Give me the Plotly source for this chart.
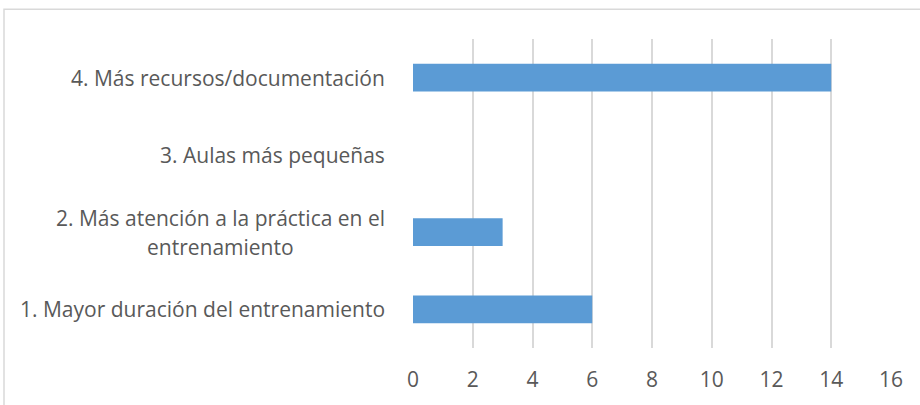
import plotly.graph_objects as go

# Survey answers: suggested improvements and how many respondents chose each
categories = [
    "1. Mayor duración del entrenamiento",
    "2. Más atención a la práctica en el\nentrenamiento",
    "3. Aulas más pequeñas",
    "4. Más recursos/documentación",
]
values = [6, 3, 0, 14]
x_ticks = [0, 2, 4, 6, 8, 10, 12, 14, 16]

BAR_COLOR = "#5B9BD5"
GRID_COLOR = "#D9D9D9"
TEXT_COLOR = "#595959"
FONT = "Open Sans"
FONT_SIZE = 21

W, H = 920, 405
ML, MR, MT, MB = 413, 29, 39, 55
plot_w = W - ML - MR
plot_h = H - MT - MB

fig = go.Figure(
    go.Bar(
        x=values,
        y=list(range(len(categories))),
        orientation="h",
        width=0.36,
        marker=dict(color=BAR_COLOR, line=dict(width=0)),
        hoverinfo="skip",
    )
)

# Category labels: single lines right-aligned next to the axis,
# wrapped labels drawn line by line and centred on a common midpoint
LABEL_GAP = 26       # px between label block and the plot area
LINE_GAP = 29        # px between wrapped lines
WRAP_CENTER = -193   # px offset of the wrapped block's centre from the plot's left edge
label_font = dict(family=FONT, size=FONT_SIZE, color=TEXT_COLOR)

annotations = []
for i, label in enumerate(categories):
    lines = label.split("\n")
    if len(lines) == 1:
        annotations.append(dict(
            x=0, xref="paper", xanchor="right", xshift=-LABEL_GAP,
            y=i, yref="y", yanchor="middle",
            text=lines[0], showarrow=False, font=label_font,
        ))
    else:
        n = len(lines)
        for j, line in enumerate(lines):
            annotations.append(dict(
                x=0, xref="paper", xanchor="center", xshift=WRAP_CENTER,
                y=i, yref="y", yanchor="middle",
                yshift=((n - 1) / 2 - j) * LINE_GAP,
                text=line, showarrow=False, font=label_font,
            ))

fig.update_layout(
    width=W, height=H,
    margin=dict(l=ML, r=MR, t=MT, b=MB),
    paper_bgcolor="white",
    plot_bgcolor="white",
    showlegend=False,
    annotations=annotations,
    xaxis=dict(
        range=[0, 16],
        tickvals=x_ticks,
        showgrid=True, gridcolor=GRID_COLOR, gridwidth=1.5,
        zeroline=False, showline=False, ticks="",
        tickfont=dict(family=FONT, size=FONT_SIZE, color=TEXT_COLOR),
        ticklabelstandoff=17,
        fixedrange=True,
    ),
    yaxis=dict(
        range=[-0.5, len(categories) - 0.5],
        showticklabels=False, showgrid=False, zeroline=False,
        showline=False, ticks="", fixedrange=True,
    ),
    shapes=[
        # chart-area frame (top and left edges fall inside the page)
        dict(
            type="rect", xref="paper", yref="paper",
            x0=(4 - ML) / plot_w, x1=(W + 10 - ML) / plot_w,
            y0=-(H + 10 - (MT + plot_h)) / plot_h, y1=1 + (MT - 9) / plot_h,
            line=dict(color=GRID_COLOR, width=1.5),
            layer="below",
        )
    ],
)

fig.write_html("out.html", config={"displayModeBar": False})
